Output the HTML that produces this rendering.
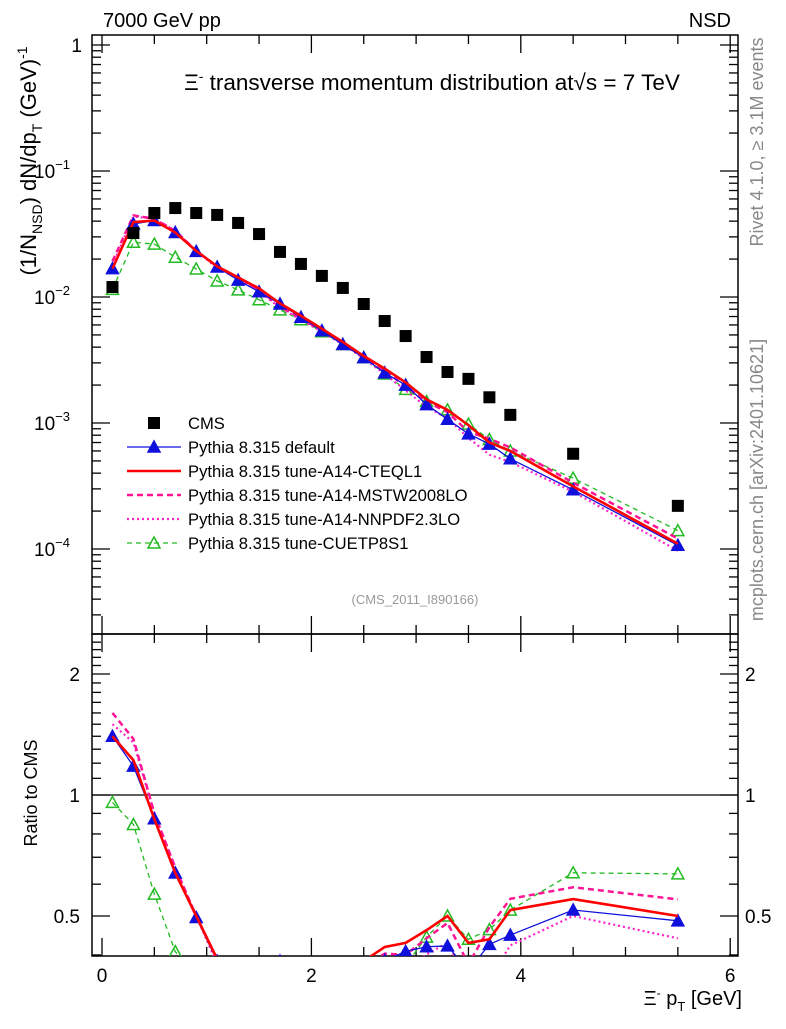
<!DOCTYPE html>
<html><head><meta charset="utf-8"><style>
body{margin:0;background:#fff;}
svg{font-family:"Liberation Sans",sans-serif;}
</style></head><body>
<svg id="c" width="786" height="1024" xmlns="http://www.w3.org/2000/svg">
<text x="103" y="27" font-size="20">7000 GeV pp</text>
<text x="731" y="27" font-size="20" text-anchor="end">NSD</text>
<text x="432" y="90" font-size="22.5" text-anchor="middle">Ξ<tspan dy="-9" font-size="14">-</tspan><tspan dy="9"> transverse momentum distribution at√s = 7 TeV</tspan></text>
<text x="415" y="604" font-size="13" fill="#999" text-anchor="middle">(CMS_2011_I890166)</text>
<text transform="translate(763,142) rotate(-90)" font-size="18" fill="#888" text-anchor="middle">Rivet 4.1.0, ≥ 3.1M events</text>
<text transform="translate(763,480) rotate(-90)" font-size="18" fill="#888" text-anchor="middle">mcplots.cern.ch [arXiv:2401.10621]</text>
<text transform="translate(36,161) rotate(-90)" font-size="22" text-anchor="middle">(1/N<tspan dy="6" font-size="14">NSD</tspan><tspan dy="-6">) dN/dp</tspan><tspan dy="6" font-size="14">T</tspan><tspan dy="-6"> (GeV)</tspan><tspan dy="-9" font-size="14">-1</tspan></text>
<text transform="translate(37,793) rotate(-90)" font-size="18" text-anchor="middle">Ratio to CMS</text>
<text x="742" y="1005" font-size="20" text-anchor="end">Ξ<tspan dy="-8" font-size="12">-</tspan><tspan dy="8"> p</tspan><tspan dy="6" font-size="13">T</tspan><tspan dy="-6"> [GeV]</tspan></text>
<g id="g"></g>
</svg>
<script>
const xs=[0.1,0.3,0.5,0.7,0.9,1.1,1.3,1.5,1.7,1.9,2.1,2.3,2.5,2.7,2.9,3.1,3.3,3.5,3.7,3.9,4.5,5.5];
const cms=[0.012,0.0322,0.0464,0.0508,0.0464,0.0448,0.0387,0.0316,0.0228,0.0183,0.0147,0.0118,0.0088,0.00645,0.0049,0.00334,0.00254,0.00224,0.0016,0.00116,0.00057,0.00022];
const pyDefault=[0.0168,0.0380,0.0405,0.0325,0.0230,0.0173,0.0136,0.0110,0.0088,0.0069,0.0054,0.0042,0.0033,0.0025,0.0020,0.0014,0.00107,0.00082,0.00068,0.00052,0.000295,0.000107];
const pyCTEQ=[0.0168,0.0393,0.0404,0.0325,0.0232,0.0175,0.0143,0.0117,0.0089,0.0071,0.0056,0.0044,0.0034,0.0027,0.0021,0.00154,0.00127,0.00096,0.0007,0.0006,0.000314,0.00011];
const pyMSTW=[0.0192,0.0444,0.0418,0.0335,0.0232,0.0175,0.0143,0.0114,0.0084,0.0068,0.0054,0.0044,0.0033,0.0026,0.00196,0.00147,0.00122,0.00085,0.00075,0.00064,0.000336,0.000121];
const pyNNPDF=[0.018,0.0435,0.0418,0.0335,0.0232,0.017,0.0139,0.0111,0.0082,0.0066,0.0053,0.0042,0.00326,0.00245,0.00181,0.00134,0.00109,0.00076,0.00056,0.00049,0.000285,0.0000968];
const pyCUETP=[0.0115,0.0272,0.0263,0.0207,0.0167,0.0134,0.0114,0.0095,0.0079,0.0066,0.0053,0.0042,0.0033,0.00245,0.00185,0.00148,0.00127,0.00098,0.00074,0.0006,0.000365,0.00014];
const xTicks=[0,2,4,6];
const yTicks=[1,0.1,0.01,0.001,0.0001];
const yTickLabels=["1","10^−1","10^−2","10^−3","10^−4"];
const rTicks=[0.5,1,2];
const legendLabels=["CMS","Pythia 8.315 default","Pythia 8.315 tune-A14-CTEQL1","Pythia 8.315 tune-A14-MSTW2008LO","Pythia 8.315 tune-A14-NNPDF2.3LO","Pythia 8.315 tune-CUETP8S1"];

const L=92,R=738,T=35,B=634,RB=956;
const X=v=>102+104.7*v;
const Y=v=>45-126*Math.log10(v);
const RY=r=>795-121*Math.log2(r);
const NS="http://www.w3.org/2000/svg";
const g=document.getElementById('g');
function el(t,a,p){const e=document.createElementNS(NS,t);for(const k in a)e.setAttribute(k,a[k]);(p||g).appendChild(e);return e;}

const defs=el('defs',{});
const cp1=el('clipPath',{id:'cm'},defs);el('rect',{x:L,y:T,width:R-L,height:B-T},cp1);
const cp2=el('clipPath',{id:'cr'},defs);el('rect',{x:L,y:B,width:R-L,height:RB-B},cp2);

const f1=el('rect',{x:L,y:T,width:R-L,height:B-T,fill:'none',stroke:'#000','stroke-width':1.5});


const f2=el('rect',{x:L,y:B,width:R-L,height:RB-B,fill:'none',stroke:'#000','stroke-width':1.5});



for(let v=0;v<=6.01;v+=0.5){const x=X(v);const major=Math.abs(v-Math.round(v))<1e-6&&Math.round(v)%2===0;const len=major?18:9;
 for(const [y0,d] of [[T,1],[B,-1],[B,1],[RB,-1]]) el('line',{x1:x,y1:y0,x2:x,y2:y0+d*len,stroke:'#000','stroke-width':1.3});}
xTicks.forEach(v=>{const t=el('text',{x:X(v),y:982,'font-size':19,'text-anchor':'middle'});t.textContent=v;
 
 });
for(let d=-5;d<=0;d++)for(let m=1;m<=9;m++){const v=m*Math.pow(10,d);const y=Y(v);if(y<T||y>B)continue;const len=m===1?18:9;
 el('line',{x1:L,y1:y,x2:L+len,y2:y,stroke:'#000','stroke-width':1.3});el('line',{x1:R,y1:y,x2:R-len,y2:y,stroke:'#000','stroke-width':1.3});}
yTicks.forEach((v,i)=>{const y=Y(v);const t=el('text',{x:82,y:y+7,'font-size':19,'text-anchor':'end'});
 
 
 const lab=yTickLabels[i];if(lab.indexOf('^')<0){t.textContent=lab;}else{const p=lab.split('^');t.setAttribute('x',70);
 const a=el('tspan',{},t);a.textContent=p[0];const b=el('tspan',{dy:-9,'font-size':13},t);b.textContent=p[1];}});
for(let r=0.4;r<=2.5;r+=0.1){const y=RY(r);if(y<B||y>RB)continue;const maj=rTicks.some(t=>Math.abs(t-r)<1e-6);const len=maj?18:9;
 el('line',{x1:L,y1:y,x2:L+len,y2:y,stroke:'#000','stroke-width':1.3});el('line',{x1:R,y1:y,x2:R-len,y2:y,stroke:'#000','stroke-width':1.3});}
rTicks.forEach(r=>{const y=RY(r);for(const [x,a] of [[80,'end'],[745,'start']]){const t=el('text',{x:x,y:y+7,'font-size':19,'text-anchor':a});t.textContent=r;
 
 }});
el('line',{x1:L,y1:RY(1),x2:R,y2:RY(1),stroke:'#000','stroke-width':1.3});

const series=[
 {d:pyCUETP,c:'#22bb22',w:1.3,dash:'5,4',m:'opentri',n:'series-cuetp8s1'},
 {d:pyNNPDF,c:'#ff22cc',w:2.2,dash:'2,3',m:null,n:'series-a14-nnpdf'},
 {d:pyMSTW,c:'#ff1493',w:2.5,dash:'6,4',m:null,n:'series-a14-mstw'},
 {d:pyDefault,c:'#1010dd',w:1.3,dash:null,m:'tri',n:'series-default'},
 {d:pyCTEQ,c:'#ff0000',w:2.6,dash:null,m:null,n:'series-a14-cteql1'}];
function tri(x,y,c,open,p){return el('polygon',{points:`${x},${y-6} ${x-6},${y+5} ${x+6},${y+5}`,fill:open?'none':c,stroke:c,'stroke-width':1.5},p);}
series.forEach(s=>{
 const gm=el('g',{'clip-path':'url(#cm)'});
 
 
 const pts=xs.map((x,i)=>X(x)+','+Y(s.d[i])).join(' ');
 const a={points:pts,fill:'none',stroke:s.c,'stroke-width':s.w};if(s.dash)a['stroke-dasharray']=s.dash;el('polyline',a,gm);
 if(s.m)xs.forEach((x,i)=>tri(X(x),Y(s.d[i]),s.c,s.m==='opentri',gm));
 const gr=el('g',{'clip-path':'url(#cr)'});
 
 
 const rp=xs.map((x,i)=>X(x)+','+RY(s.d[i]/cms[i])).join(' ');
 const b={points:rp,fill:'none',stroke:s.c,'stroke-width':s.w};if(s.dash)b['stroke-dasharray']=s.dash;el('polyline',b,gr);
 if(s.m)xs.forEach((x,i)=>tri(X(x),RY(s.d[i]/cms[i]),s.c,s.m==='opentri',gr));
});
const gc=el('g',{});


xs.forEach((x,i)=>{el('rect',{x:X(x)-6,y:Y(cms[i])-6,width:12,height:12,fill:'#000'},gc);});

const lg=el('g',{});


const legSty=[null,series[3],series[4],series[2],series[1],series[0]];
legendLabels.forEach((lab,i)=>{const y=423+24*i;const s=legSty[i];
 const e=el('g',{},lg);
 
 
 if(!s){el('rect',{x:148,y:y-6,width:12,height:12,fill:'#000'},e);}
 else{const a={x1:127,y1:y,x2:181,y2:y,stroke:s.c,'stroke-width':s.w};if(s.dash)a['stroke-dasharray']=s.dash;el('line',a,e);
  if(s.m)tri(154,y,s.c,s.m==='opentri',e);}
 const t=el('text',{x:188,y:y+6,'font-size':16.6},e);t.textContent=lab;});
</script>
</body></html>
